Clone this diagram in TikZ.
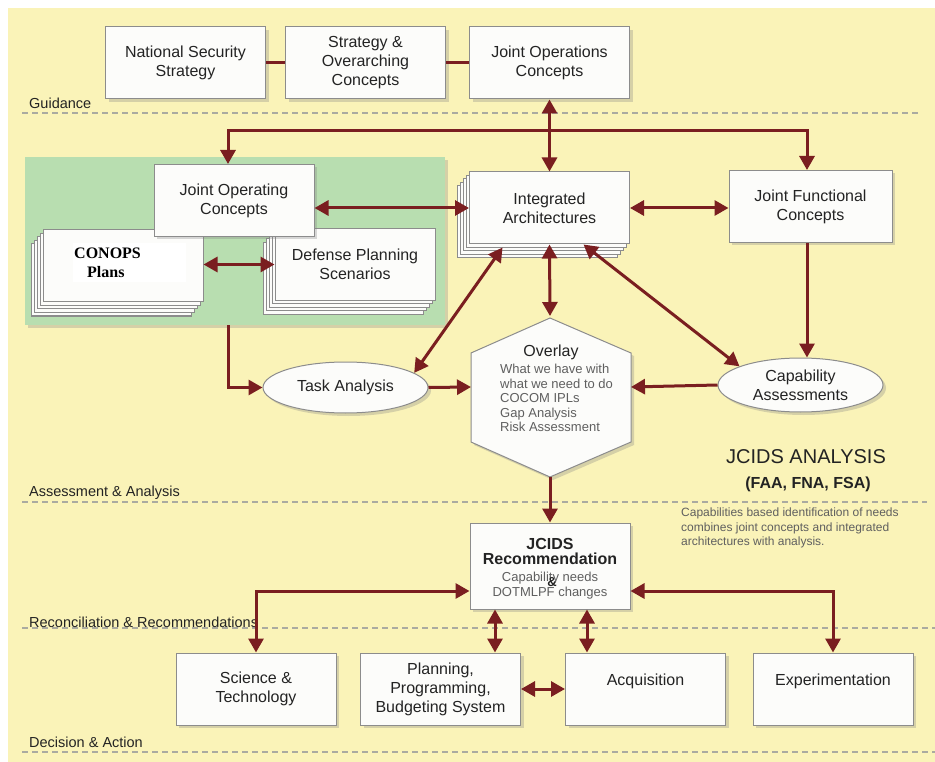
\documentclass[tikz,border=0pt]{standalone}
\usepackage{fontspec}
\setmainfont{Liberation Sans}
\newfontfamily\timesfont{Liberation Serif}
\usetikzlibrary{positioning,shapes.geometric,shadows,arrows.meta}

\definecolor{paper}{RGB}{250,243,184}
\definecolor{panel}{RGB}{184,222,176}
\definecolor{maroon}{RGB}{122,30,32}
\definecolor{edge}{RGB}{140,140,140}
\definecolor{ink}{RGB}{35,35,35}
\definecolor{soft}{RGB}{95,95,95}
\definecolor{rule}{RGB}{170,170,160}
\definecolor{sheetwhite}{RGB}{252,252,250}

\tikzset{
  sheet/.style={draw=edge, fill=sheetwhite, line width=1pt, minimum width=160pt,
    minimum height=72pt, align=center, text=ink, font=\fontsize{16}{19}\selectfont},
  box/.style={sheet, drop shadow={shadow xshift=3pt, shadow yshift=-3pt, opacity=0.3}},
  stackbox/.style={sheet,
    copy shadow={shadow xshift=-12pt, shadow yshift=-14pt},
    copy shadow={shadow xshift=-9pt, shadow yshift=-10.5pt},
    copy shadow={shadow xshift=-6pt, shadow yshift=-7pt},
    copy shadow={shadow xshift=-3pt, shadow yshift=-3.5pt}},
  oval/.style={ellipse, draw=edge, fill=sheetwhite, line width=1pt, inner sep=0pt,
    minimum width=165pt, align=center, text=ink, font=\fontsize{16}{19}\selectfont,
    drop shadow={shadow xshift=3pt, shadow yshift=-3pt, opacity=0.3}},
  hexa/.style={draw=edge, fill=sheetwhite, line width=1pt,
    drop shadow={shadow xshift=3pt, shadow yshift=-3pt, opacity=0.3}},
  patch/.style={fill=white, inner sep=0pt, inner xsep=1pt, text width=111pt,
    minimum height=39pt, anchor=north west, align=left, text=black,
    font=\timesfont\fontsize{16}{19}\selectfont\bfseries},
  link/.style={draw=maroon, line width=3pt, >={Triangle[length=14pt,width=15pt]}},
  layer/.style={draw=rule, line width=1.5pt, dash pattern=on 6pt off 4pt},
  layername/.style={anchor=base west, inner sep=0pt, text=ink,
    font=\fontsize{14.5}{17}\selectfont},
  note/.style={inner sep=0pt, text=soft, align=left, font=\fontsize{12}{14.5}\selectfont}
}

\begin{document}
\begin{tikzpicture}[x=1pt,y=-1pt]
  \useasboundingbox (0,0) rectangle (935,762);
  \fill[white] (0,0) rectangle (935,762);
  \fill[paper] (8,8) rectangle (935,762);

  % layers
  \draw[layer] (22,113) -- (921,113);
  \draw[layer] (22,502) -- (927,502);
  \draw[layer] (22,628) -- (935,628);
  \draw[layer] (22,752) -- (935,752);
  \node[layername] (guidance) at (29,109) {Guidance};
  \node[layername] (assess) at (29,496) {Assessment \& Analysis};
  \node[layername] (recon) at (29,627) {Reconciliation \& Recommendations};
  \node[layername] (decide) at (29,747) {Decision \& Action};

  % guidance
  \node[box] (nss) at (185.5,63) {National Security\\Strategy};
  \node[box] (soc) at (365.5,63) {Strategy \&\\Overarching\\Concepts};
  \node[box] (jopc) at (549.5,63) {Joint Operations\\Concepts};

  % concepts
  \node[fill=panel, minimum width=420pt, minimum height=168pt,
    drop shadow={shadow xshift=3pt, shadow yshift=-3pt, opacity=0.3}] (concepts) at (235,241) {};
  \node[stackbox] (conops) at (123,266) {};
  \node[patch] (conopstext) at (73,243) {CONOPS\\\hspace*{13pt}Plans};
  \node[stackbox] (dps) at (355,264.5) {Defense Planning\\Scenarios};
  \node[box] (joc) at (234,200.5) {Joint Operating\\Concepts};
  \node[stackbox] (ia) at (549.5,208) {Integrated\\Architectures};
  \node[box, minimum width=163pt] (jfc) at (810.5,206.5) {Joint Functional\\Concepts};

  % assessment
  \node[oval, minimum height=51pt] (task) at (345.5,387.5) {Task Analysis};
  \node[oval, minimum height=54pt] (cap) at (800.5,385) {Capability\\Assessments};
  \draw[hexa] (550,318) -- (631,353) -- (631,442) -- (550,477) -- (471,442) -- (471,353) -- cycle;
  \coordinate (ov-n) at (550,316);
  \coordinate (ov-s) at (550,477);
  \coordinate (ov-w) at (471,387);
  \coordinate (ov-e) at (631,387);
  \node[text=ink, font=\fontsize{16}{19}\selectfont] (ovtitle) at (551,352) {Overlay};
  \node[note, anchor=north west, font=\fontsize{13}{14.5}\selectfont] (ovbody) at (500,364)
    {What we have with\\what we need to do\\COCOM IPLs\\Gap Analysis\\Risk Assessment};
  \node[text=ink, font=\fontsize{20}{24}\selectfont] (jcids) at (806,457) {JCIDS ANALYSIS};
  \node[text=ink, font=\fontsize{16}{19}\selectfont\bfseries] (faa) at (808,484) {(FAA, FNA, FSA)};
  \node[note, anchor=north west] (caption) at (681,508)
    {Capabilities based identification of needs\\combines joint concepts and integrated\\architectures with analysis.};

  % recommendation
  \node[box, minimum height=86pt] (rec) at (550,566) {};
  \node[align=center, inner sep=0pt, text=ink, font=\fontsize{13}{15.5}\selectfont] (rectext) at (550,569)
    {\fontsize{16}{18}\selectfont\bfseries JCIDS\\
     \fontsize{16}{18}\selectfont\bfseries Recommendation\\[1pt]
     \textcolor{soft}{Capability needs}\\
     \textcolor{soft}{DOTMLPF changes}};
  \node[inner sep=0pt, text=ink, font=\fontsize{13}{15}\selectfont\bfseries] (amp) at (552,582) {\&};

  % decision
  \node[box] (st) at (256,689) {Science \&\\Technology};
  \node[box] (ppbs) at (440.5,689) {Planning,\\Programming,\\Budgeting System};
  \node[box] (acq) at (645.5,689) {Acquisition\\\mbox{}};
  \node[box] (exp) at (833,689) {Experimentation\\\mbox{}};

  % links
  \draw[link] (nss) -- (soc);
  \draw[link] (soc) -- (jopc);
  \coordinate (gl) at (228,131);
  \coordinate (gr) at (807,131);
  \draw[link,->] (gr) -- (gl) -- (gl |- joc.north);
  \draw[link,->] (gl) -- (gr) -- (gr |- jfc.north);
  \draw[link,<->] (jopc.south) -- (ia.north);
  \draw[link,<->] (joc.east |- ia.west) -- (ia.west);
  \draw[link,<->] (ia.east) -- (jfc.west |- ia.east);
  \draw[link,<->] (conops.east |- dps.west) -- (dps.west);
  \draw[link,->] (gr |- jfc.south) -- (gr |- cap.north);
  \draw[link,->] (gl |- concepts.south) |- (task.west);
  \draw[link,<->] (task.12) -- ([xshift=-47pt,yshift=-3pt]ia.south);
  \draw[link,<->] (ia.south) -- (ov-n);
  \draw[link,<->] ([xshift=34pt]ia.south) -- (cap.163);
  \draw[link,->] (task.east) -- (ov-w);
  \draw[link,->] (cap.west) -- (ov-e);
  \draw[link,->] (ov-s) -- (rec.north);
  \coordinate (rl) at (256,591);
  \coordinate (rr) at (832,591);
  \draw[link,<->] (rec.west |- rl) -| (st.north);
  \draw[link,<->] (rec.east |- rr) -| (exp.north);
  \draw[link,<->] ([xshift=-55pt]rec.south) -- ([xshift=-55pt]rec.south |- ppbs.north);
  \draw[link,<->] ([xshift=37pt]rec.south) -- ([xshift=37pt]rec.south |- acq.north);
  \draw[link,<->] (ppbs.east) -- (acq.west);
\end{tikzpicture}
\end{document}
